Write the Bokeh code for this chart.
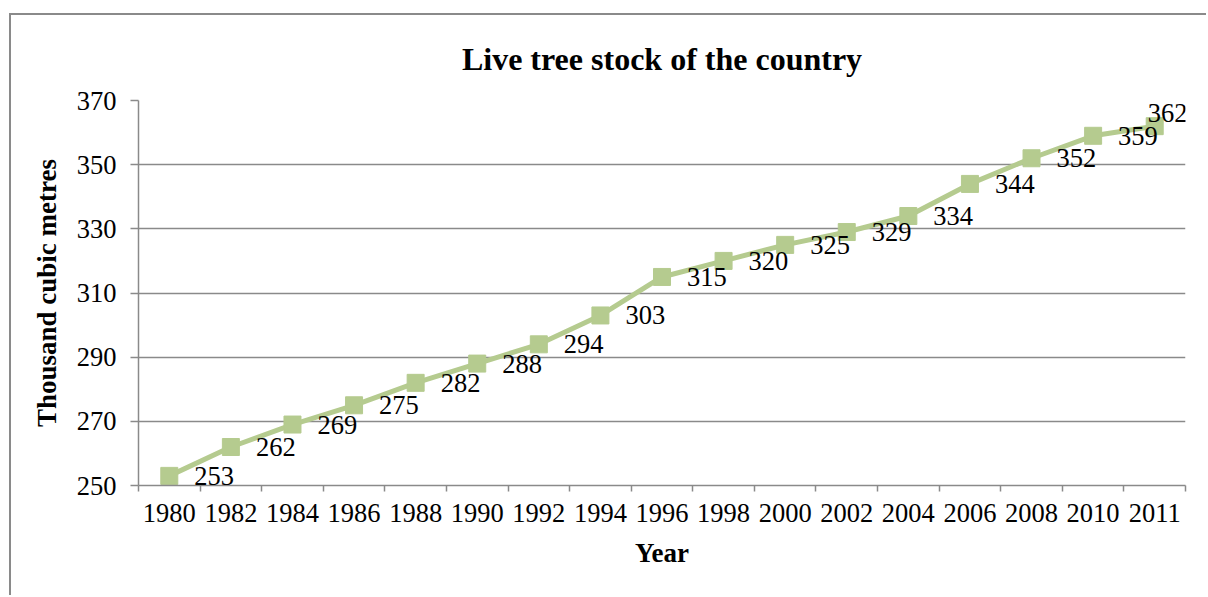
from bokeh.plotting import figure
from bokeh.models import Range1d, FixedTicker, ColumnDataSource, LabelSet
from bokeh.embed import file_html
from bokeh.resources import INLINE

# Live tree stock, thousand cubic metres
years = ["1980", "1982", "1984", "1986", "1988", "1990", "1992", "1994", "1996",
         "1998", "2000", "2002", "2004", "2006", "2008", "2010", "2011"]
stock = [253, 262, 269, 275, 282, 288, 294, 303, 315, 320, 325, 329, 334, 344, 352, 359, 362]
y_ticks = [250, 270, 290, 310, 330, 350, 370]

FONT = "Liberation Serif"
GREEN = "#B5CB8F"
GRID = "#8A8A8A"
TICK_SIZE = "26.5px"
AXIS_TITLE_SIZE = "27px"

n = len(years)
centers = [i + 0.5 for i in range(n)]

# label placement: to the right of each point; the last one sits above it
x_off = [25] * n
y_off = [0] * n
x_off[-1] = -7
y_off[-1] = 13

src = ColumnDataSource(dict(x=centers, y=stock, lbl=[str(v) for v in stock],
                            xo=x_off, yo=y_off))

p = figure(width=1197, height=582, output_backend="svg", toolbar_location=None,
           x_range=Range1d(0, n), y_range=Range1d(y_ticks[0], y_ticks[-1]),
           min_border_left=127, min_border_right=23, min_border_top=85,
           min_border_bottom=112)
p.styles = {"margin-left": "9px", "margin-top": "13px",
            "border-left": f"2px solid {GRID}", "border-top": f"2px solid {GRID}"}

p.title.text = "Live tree stock of the country"
p.title.align = "center"
p.title.vertical_align = "top"
p.title.text_font = FONT
p.title.text_font_size = "32px"
p.title.text_font_style = "bold"
p.title.text_color = "black"
p.title.standoff = 44

p.outline_line_color = None
p.background_fill_color = "white"

# x axis: year labels centred in each slot, tick marks on the slot edges
xa = p.xaxis[0]
xa.ticker = FixedTicker(ticks=centers, minor_ticks=list(range(n + 1)))
xa.major_label_overrides = {c: y for c, y in zip(centers, years)}
xa.major_tick_out = 0
xa.major_tick_in = 0
xa.minor_tick_out = 6
xa.minor_tick_in = 0
xa.minor_tick_line_color = GRID
xa.minor_tick_line_width = 1.5
xa.axis_line_color = GRID
xa.axis_line_width = 1.5
xa.major_label_text_font = FONT
xa.major_label_text_font_size = TICK_SIZE
xa.major_label_text_color = "black"
xa.major_label_standoff = 12
xa.axis_label = "Year"
xa.axis_label_text_font = FONT
xa.axis_label_text_font_size = AXIS_TITLE_SIZE
xa.axis_label_text_font_style = "bold"
xa.axis_label_text_color = "black"
xa.axis_label_standoff = 13

ya = p.yaxis[0]
ya.ticker = FixedTicker(ticks=y_ticks, minor_ticks=[])
ya.major_tick_out = 8
ya.major_tick_in = 0
ya.major_tick_line_color = GRID
ya.major_tick_line_width = 1.5
ya.axis_line_color = GRID
ya.axis_line_width = 1.5
ya.major_label_text_font = FONT
ya.major_label_text_font_size = TICK_SIZE
ya.major_label_text_color = "black"
ya.major_label_standoff = 14
ya.axis_label = "Thousand cubic metres"
ya.axis_label_text_font = FONT
ya.axis_label_text_font_size = AXIS_TITLE_SIZE
ya.axis_label_text_font_style = "bold"
ya.axis_label_text_color = "black"
ya.axis_label_standoff = 12

p.xgrid.grid_line_color = None
p.ygrid.ticker = FixedTicker(ticks=y_ticks)
p.ygrid.grid_line_color = GRID
p.ygrid.grid_line_width = 1.5

p.line("x", "y", source=src, line_color=GREEN, line_width=5)
p.scatter("x", "y", source=src, marker="square", size=17, fill_color=GREEN,
          line_color=GREEN)

labels = LabelSet(x="x", y="y", text="lbl", source=src, x_offset="xo", y_offset="yo",
                  text_font=FONT, text_font_size=TICK_SIZE, text_baseline="middle",
                  text_align="left", text_color="black")
p.add_layout(labels)

open("out.html", "w").write(file_html(p, INLINE))
